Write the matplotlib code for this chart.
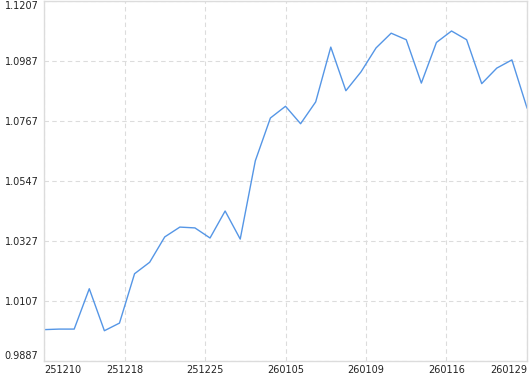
import matplotlib
matplotlib.use("Agg")
import matplotlib.pyplot as plt
import numpy as np

# values, one per trading day
values = [1.0002, 1.0004, 1.0004, 1.0152, 0.9998, 1.0026, 1.0207, 1.0249,
          1.0342, 1.0378, 1.0375, 1.0338, 1.0437, 1.0334, 1.0621, 1.0778,
          1.0821, 1.0757, 1.0837, 1.1038, 1.0878, 1.0947, 1.1035, 1.1089,
          1.1065, 1.0906, 1.1055, 1.1097, 1.1065, 1.0904, 1.0961, 1.0991,
          1.0815]
x_labels = ["251210", "251218", "251225", "260105", "260109", "260116", "260129"]
y_ticks = [0.9887, 1.0107, 1.0327, 1.0547, 1.0767, 1.0987, 1.1207]

line_color = "#5596e6"
grid_color = "#dcdcdc"
text_color = "#222222"

fig = plt.figure(figsize=(5.3, 3.74), dpi=100)
ax = fig.add_axes([44 / 530, 13 / 374, 483 / 530, 360 / 374])

x = np.arange(len(values))
ax.plot(x, values, color=line_color, lw=1)

ax.set_xlim(0, len(values) - 1)
ax.set_ylim(y_ticks[0], y_ticks[-1])

# x labels are spread evenly over the axis
xt = np.linspace(0, len(values) - 1, len(x_labels))
ax.set_xticks(xt)
ax.set_xticklabels(x_labels)
ax.set_yticks(y_ticks)
ax.set_yticklabels(["%.4f" % v for v in y_ticks])

ax.tick_params(axis="both", length=0, labelsize=7, labelcolor=text_color)
ax.tick_params(axis="x", pad=3)
ax.tick_params(axis="y", pad=4)
lbls = ax.get_xticklabels()
lbls[0].set_ha("left")
lbls[-1].set_ha("right")
ylbls = ax.get_yticklabels()
ylbls[0].set_va("bottom")
ylbls[-1].set_va("top")

ax.grid(True, color=grid_color, linestyle=(0, (4, 3)), lw=0.8)
for s in ax.spines.values():
    s.set_color(grid_color)
    s.set_linewidth(1)

fig.savefig("out.png", dpi=100)
